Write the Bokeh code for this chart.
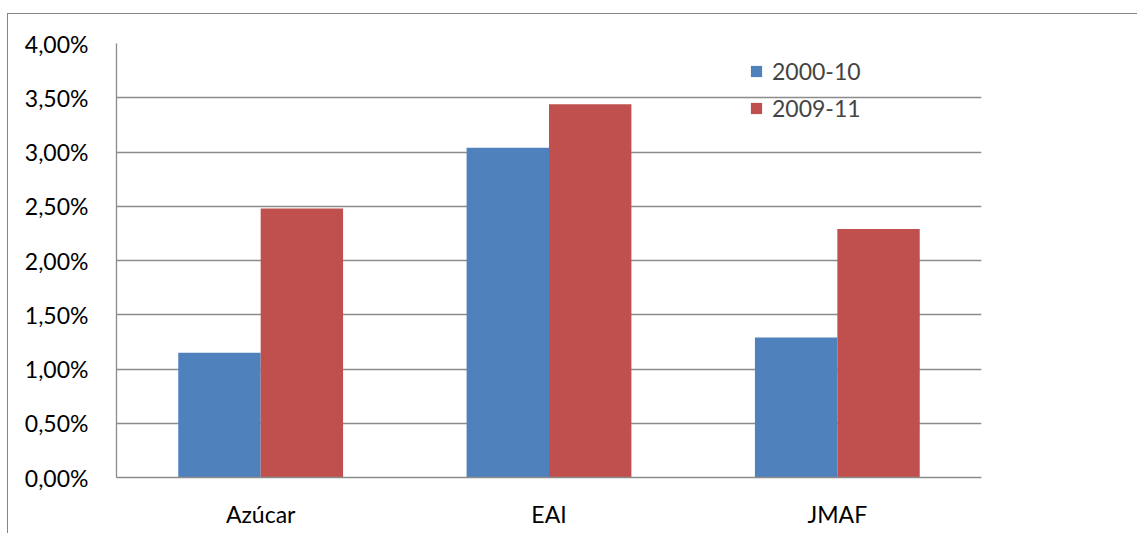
from bokeh.plotting import figure
from bokeh.models import ColumnDataSource, FactorRange, FixedTicker, Legend, LegendItem, InlineStyleSheet
from bokeh.transform import dodge
from bokeh.embed import file_html
from bokeh.resources import INLINE

categories = ["Azúcar", "EAI", "JMAF"]
series_names = ["2000-10", "2009-11"]
values_2000_10 = [0.0115, 0.0304, 0.0129]
values_2009_11 = [0.0248, 0.0344, 0.0229]
colors = ["#4F81BD", "#C0504D"]
y_ticks = [0.0, 0.005, 0.01, 0.015, 0.02, 0.025, 0.03, 0.035, 0.04]
y_tick_labels = ["0,00%", "0,50%", "1,00%", "1,50%", "2,00%", "2,50%", "3,00%", "3,50%", "4,00%"]

FONT = "Lato"
FS = "23px"

source = ColumnDataSource(data=dict(cat=categories, a=values_2000_10, b=values_2009_11))

p = figure(x_range=FactorRange(*categories, range_padding=0), y_range=(0, 0.04),
           width=1130, height=520, output_backend="svg", toolbar_location=None,
           min_border_left=108, min_border_top=29, min_border_right=157, min_border_bottom=57)
p.margin = (13, 0, 0, 7)
p.stylesheets = [InlineStyleSheet(css=":host { border-top: 1px solid #868686; border-left: 1px solid #868686; }")]

bw = 82.4 / 288.3
r1 = p.vbar(x=dodge("cat", -bw / 2, range=p.x_range), top="a", width=bw, source=source,
            fill_color=colors[0], line_color=None)
r2 = p.vbar(x=dodge("cat", bw / 2, range=p.x_range), top="b", width=bw, source=source,
            fill_color=colors[1], line_color=None)

p.outline_line_color = None
p.xgrid.grid_line_color = None
p.ygrid.grid_line_color = "#8c8c8c"
p.ygrid.grid_line_width = 1.3
p.ygrid.ticker = FixedTicker(ticks=y_ticks)

p.yaxis.ticker = FixedTicker(ticks=y_ticks)
p.yaxis.major_label_overrides = {t: l for t, l in zip(y_ticks, y_tick_labels)}
p.yaxis.major_tick_line_color = None
p.yaxis.minor_tick_line_color = None
p.yaxis.axis_line_color = "#8c8c8c"
p.yaxis.axis_line_width = 1.3
p.yaxis.major_label_standoff = 22
p.yaxis.major_label_text_font = FONT
p.yaxis.major_label_text_font_size = FS
p.yaxis.major_label_text_color = "#000000"

p.xaxis.major_tick_line_color = None
p.xaxis.minor_tick_line_color = None
p.xaxis.axis_line_color = "#8c8c8c"
p.xaxis.axis_line_width = 1.3
p.xaxis.major_label_standoff = 16
p.xaxis.major_label_text_font = FONT
p.xaxis.major_label_text_font_size = FS
p.xaxis.major_label_text_color = "#000000"

legend = Legend(items=[LegendItem(label=series_names[0], renderers=[r1]),
                       LegendItem(label=series_names[1], renderers=[r2])],
                location=(633, 355), padding=0, margin=0, spacing=9,
                glyph_width=14, glyph_height=14, label_standoff=9,
                label_text_font=FONT, label_text_font_size=FS,
                border_line_color=None, background_fill_alpha=0)
p.add_layout(legend)

open("out.html", "w").write(file_html(p, INLINE))
